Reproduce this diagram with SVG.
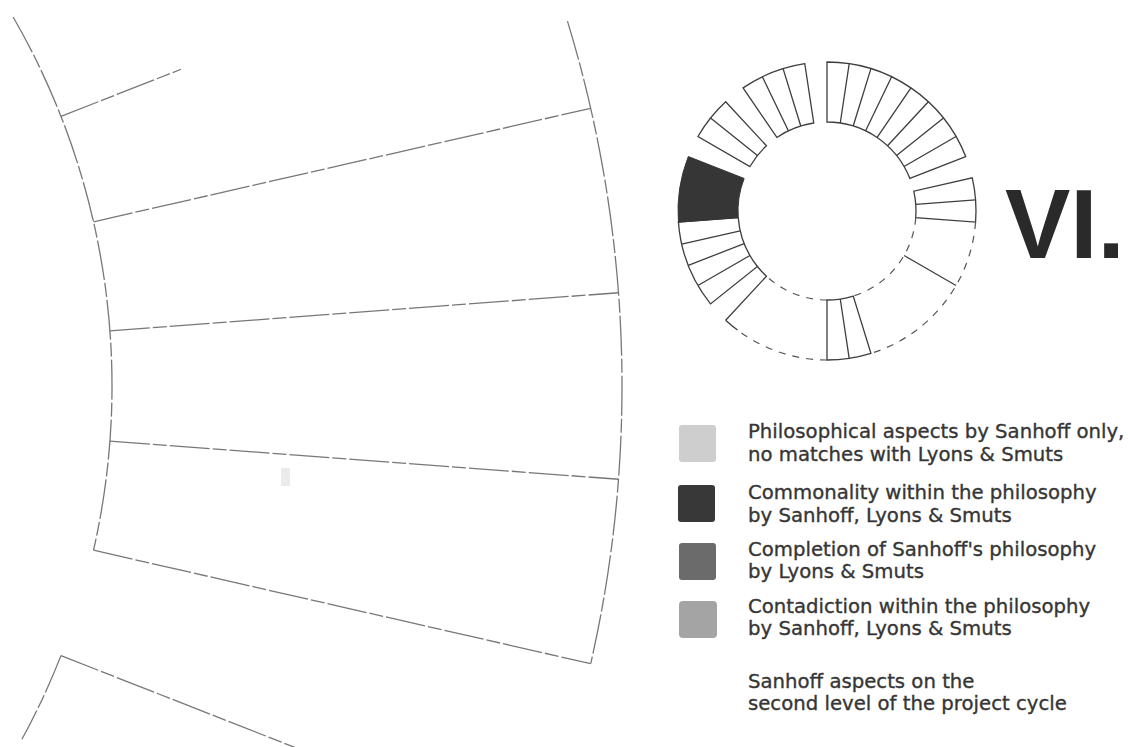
<svg xmlns="http://www.w3.org/2000/svg" width="1128" height="747" viewBox="0 0 1128 747">
<style>
.big{fill:none;stroke:#777;stroke-width:1.3;stroke-dasharray:40 3 14 3}
.seg{fill:none;stroke:#3e3e3e;stroke-width:1.3}
.dash{fill:none;stroke:#555;stroke-width:1.2;stroke-dasharray:7 7}
.dark{fill:#363636;stroke:#363636;stroke-width:1}
.lg{font-family:"DejaVu Sans",sans-serif;font-size:19.7px;fill:#363636;stroke:#363636;stroke-width:0.35}
.title{font-family:"Liberation Sans",Arial,sans-serif;font-weight:bold;font-size:98px;fill:#2a2a2a}
</style>
<rect width="1128" height="747" fill="#ffffff"/>

<g id="big-ring">
  <path class="big" d="M13.13,17 A738,738 0 0 1 93.50,550.22"/>
  <path class="big" d="M60.98,655.62 A738,738 0 0 1 21.95,739.27"/>
  <path class="big" d="M567.46,21.12 A1248,1248 0 0 1 590.71,663.70"/>
  <line class="big" x1="60.98" y1="116.38" x2="181.06" y2="69.25"/>
  <line class="big" x1="93.50" y1="221.78" x2="590.71" y2="108.30"/>
  <line class="big" x1="109.93" y1="330.85" x2="618.51" y2="292.74"/>
  <line class="big" x1="109.93" y1="441.15" x2="618.51" y2="479.26"/>
  <line class="big" x1="93.50" y1="550.22" x2="590.71" y2="663.70"/>
  <line class="big" x1="60.98" y1="655.62" x2="304.87" y2="751.34"/>
  <rect x="281" y="468" width="9" height="18" fill="#ebebeb"/>
</g>

<g id="ring">
  <g id="group-top-right">
    <path class="seg" d="M827,62 A149,149 0 0 1 965.70,156.56 L909.85,178.48 A89,89 0 0 0 827,122 Z"/>
    <path class="seg" d="M840.26,122.99 L849.21,63.66 M853.23,125.95 L870.92,68.62 M865.62,130.81 L891.65,76.76 M877.14,137.46 L910.93,87.89 M887.54,145.76 L928.35,101.78 M896.58,155.51 L943.49,118.10 M904.08,166.5 L956.04,136.5"/>
  </g>
  <g id="group-right">
    <path class="seg" d="M972.26,177.84 A149,149 0 0 1 975.58,222.13 L915.75,217.65 A89,89 0 0 0 913.77,191.20 Z"/>
    <path class="seg" d="M915.75,204.35 L975.58,199.87"/>
  </g>
  <g id="open-lower-right">
    <path class="dash" d="M975.58,222.13 A149,149 0 0 1 870.92,353.38"/>
    <path class="dash" d="M915.75,217.65 A89,89 0 0 1 853.23,296.05"/>
    <path class="seg" d="M904.08,255.5 L956.04,285.5"/>
  </g>
  <g id="group-bottom">
    <path class="seg" d="M870.92,353.38 A149,149 0 0 1 827,360 L827,300 A89,89 0 0 0 853.23,296.05 Z"/>
    <path class="seg" d="M840.26,299.01 L849.21,358.34"/>
  </g>
  <g id="open-lower-left">
    <path class="dash" d="M827,360 A149,149 0 0 1 737.5,330"/>
    <path class="seg" d="M737.5,330 A149,149 0 0 1 725.65,320.22"/>
    <path class="dash" d="M827,300 A89,89 0 0 1 766.46,276.24"/>
    <path class="seg" d="M725.65,320.22 L766.46,276.24 A89,89 0 0 1 757.42,266.49"/>
  </g>
  <g id="group-left">
    <path class="seg" d="M710.51,303.90 A149,149 0 0 1 678.42,222.13 L738.25,217.65 A89,89 0 0 0 757.42,266.49 Z"/>
    <path class="seg" d="M749.92,255.5 L697.96,285.5 M744.15,243.52 L688.30,265.44 M740.23,230.80 L681.74,244.16"/>
  </g>
  <g id="segment-dark">
    <path class="dark" d="M678.42,222.13 A149,149 0 0 1 688.30,156.56 L744.15,178.48 A89,89 0 0 0 738.25,217.65 Z"/>
  </g>
  <g id="group-upper-left">
    <path class="seg" d="M697.96,136.5 A149,149 0 0 1 725.65,101.78 L766.46,145.76 A89,89 0 0 0 749.92,166.5 Z"/>
    <path class="seg" d="M757.42,155.51 L710.51,118.10"/>
  </g>
  <g id="group-top-left">
    <path class="seg" d="M743.07,87.89 A149,149 0 0 1 804.79,63.66 L813.74,122.99 A89,89 0 0 0 776.86,137.46 Z"/>
    <path class="seg" d="M788.38,130.81 L762.35,76.76 M800.77,125.95 L783.08,68.62"/>
  </g>
</g>

<g id="title">
  <text class="title" x="1005" y="258">VI.</text>
</g>

<g id="legend">
  <g id="legend-1">
    <rect x="679" y="425" width="37" height="37" rx="3" fill="#cecece"/>
    <text class="lg" x="748" y="438">Philosophical aspects by Sanhoff only,</text>
    <text class="lg" x="748" y="461">no matches with Lyons &amp; Smuts</text>
  </g>
  <g id="legend-2">
    <rect x="678" y="485" width="37" height="37" rx="3" fill="#383838"/>
    <text class="lg" x="748" y="499">Commonality within the philosophy</text>
    <text class="lg" x="748" y="522">by Sanhoff, Lyons &amp; Smuts</text>
  </g>
  <g id="legend-3">
    <rect x="679" y="543" width="37" height="37" rx="3" fill="#6b6b6b"/>
    <text class="lg" x="748" y="556">Completion of Sanhoff's philosophy</text>
    <text class="lg" x="748" y="578">by Lyons &amp; Smuts</text>
  </g>
  <g id="legend-4">
    <rect x="679" y="601" width="38" height="37" rx="4" fill="#a4a4a4"/>
    <text class="lg" x="748" y="613">Contadiction within the philosophy</text>
    <text class="lg" x="748" y="635">by Sanhoff, Lyons &amp; Smuts</text>
  </g>
  <g id="legend-note">
    <text class="lg" x="748" y="688">Sanhoff aspects on the</text>
    <text class="lg" x="748" y="710">second level of the project cycle</text>
  </g>
</g>
</svg>
